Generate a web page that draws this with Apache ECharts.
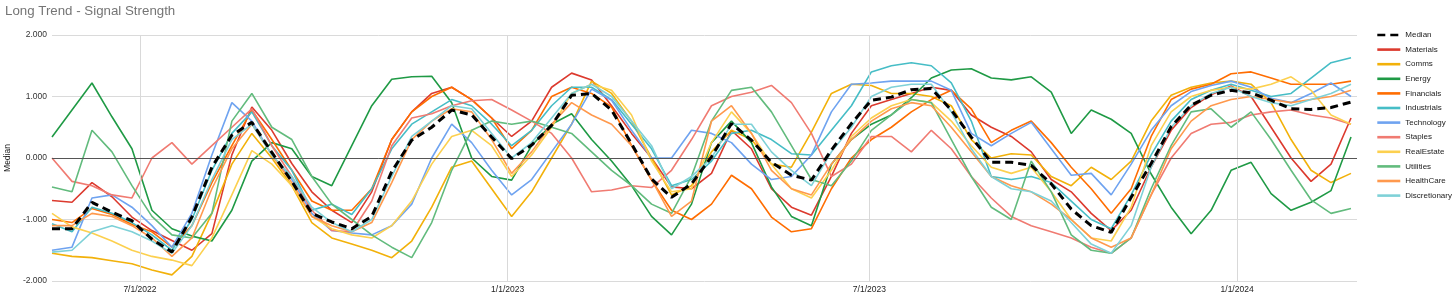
<!DOCTYPE html>
<html><head><meta charset="utf-8">
<script src="https://cdn.jsdelivr.net/npm/echarts@6/dist/echarts.min.js"></script>
<style>html,body{margin:0;padding:0;background:#fff;}#c{width:1456px;height:298px;}</style>
</head><body><div id="c"></div>
<script>
const dates = ['2022-05-18','2022-05-28','2022-06-07','2022-06-17','2022-06-27','2022-07-07','2022-07-17','2022-07-27','2022-08-06','2022-08-16','2022-08-26','2022-09-05','2022-09-15','2022-09-25','2022-10-05','2022-10-15','2022-10-25','2022-11-04','2022-11-14','2022-11-24','2022-12-04','2022-12-14','2022-12-24','2023-01-03','2023-01-13','2023-01-23','2023-02-02','2023-02-12','2023-02-22','2023-03-04','2023-03-14','2023-03-24','2023-04-03','2023-04-13','2023-04-23','2023-05-03','2023-05-13','2023-05-23','2023-06-02','2023-06-12','2023-06-22','2023-07-02','2023-07-12','2023-07-22','2023-08-01','2023-08-11','2023-08-21','2023-08-31','2023-09-10','2023-09-20','2023-09-30','2023-10-10','2023-10-20','2023-10-30','2023-11-09','2023-11-19','2023-11-29','2023-12-09','2023-12-19','2023-12-29','2024-01-08','2024-01-18','2024-01-28','2024-02-07','2024-02-17','2024-02-27'];

const median = [-1.15,-1.15,-0.72,-0.88,-1.02,-1.32,-1.53,-0.96,-0.15,0.37,0.58,0.09,-0.38,-0.9,-1.04,-1.15,-0.95,-0.22,0.29,0.5,0.78,0.70,0.34,-0.01,0.21,0.53,1.02,1.05,0.78,0.23,-0.34,-0.64,-0.42,0.02,0.56,0.29,-0.07,-0.28,-0.36,0.13,0.56,0.94,0.99,1.11,1.13,0.78,0.34,-0.07,-0.07,-0.12,-0.42,-0.83,-1.10,-1.21,-0.64,-0.09,0.51,0.86,1.02,1.10,1.06,0.94,0.80,0.79,0.82,0.91];
const materials = [-0.69,-0.72,-0.4,-0.63,-0.96,-1.18,-1.34,-1.5,-1.23,0.05,0.83,0.45,-0.09,-0.55,-0.85,-1.05,-0.55,0.3,0.75,1.05,1.15,0.95,0.65,0.35,0.6,1.15,1.38,1.27,0.85,0.4,0.0,-0.47,-0.5,-0.25,0.45,0.15,-0.5,-0.8,-0.93,-0.3,0.4,0.85,0.95,1.05,1.15,1.1,0.7,0.5,0.35,0.1,-0.35,-0.55,-0.9,-1.18,-0.85,-0.15,0.45,0.82,1.03,1.17,1.0,0.5,0.0,-0.38,-0.1,0.65];
const comms = [-1.55,-1.6,-1.62,-1.67,-1.72,-1.82,-1.9,-1.6,-0.9,-0.1,0.4,0.0,-0.45,-1.05,-1.3,-1.4,-1.5,-1.62,-1.35,-0.8,-0.15,-0.05,-0.5,-0.95,-0.55,0.0,0.55,1.25,1.05,0.6,0.0,-0.6,-0.45,0.1,0.45,0.3,-0.1,-0.15,0.42,1.05,1.2,1.18,1.05,1.05,1.0,0.85,0.3,0.0,0.07,0.05,-0.3,-0.45,-0.15,-0.35,-0.05,0.6,1.02,1.15,1.22,1.25,1.2,0.9,0.3,-0.2,-0.4,-0.25];
const energy = [0.34,0.78,1.22,0.67,0.15,-0.85,-1.15,-1.27,-1.35,-0.85,-0.05,0.25,0.15,-0.3,-0.45,0.2,0.85,1.28,1.32,1.33,0.9,0.0,-0.3,-0.36,0.2,0.55,0.72,0.3,-0.05,-0.45,-0.95,-1.25,-0.75,0.25,0.6,0.25,-0.47,-0.95,-1.1,-0.1,0.3,0.55,0.7,0.98,1.3,1.43,1.45,1.3,1.27,1.32,1.07,0.4,0.78,0.63,0.4,-0.26,-0.8,-1.23,-0.85,-0.2,-0.07,-0.58,-0.85,-0.72,-0.53,0.34];
const financials = [-1.0,-1.05,-0.82,-0.92,-1.08,-1.2,-1.45,-1.1,-0.4,0.2,0.78,0.3,-0.2,-0.7,-0.85,-0.85,-0.5,0.3,0.75,1.0,1.15,0.95,0.65,0.15,0.45,1.0,1.15,1.05,0.83,0.2,-0.36,-0.85,-1.0,-0.75,-0.28,-0.5,-0.96,-1.2,-1.15,-0.5,0.0,0.3,0.5,0.75,0.95,1.1,0.8,0.25,0.45,0.6,0.25,-0.15,-0.5,-0.9,-0.5,0.35,0.95,1.12,1.2,1.37,1.4,1.3,1.2,1.2,1.2,1.25];
const industrials = [-1.07,-1.2,-0.8,-0.9,-1.05,-1.25,-1.5,-1.0,-0.2,0.4,0.75,0.2,-0.2,-0.85,-0.75,-0.92,-0.5,0.15,0.55,0.75,0.95,0.85,0.55,0.2,0.45,0.85,1.15,1.15,0.95,0.55,0.15,-0.45,-0.35,-0.05,0.4,0.45,0.3,0.07,0.05,0.45,0.85,1.4,1.5,1.55,1.5,1.22,0.6,-0.3,-0.35,-0.3,-0.4,-0.7,-1.0,-1.15,-0.6,0.05,0.6,0.95,1.1,1.2,1.1,1.0,1.05,1.3,1.55,1.63];
const technology = [-1.5,-1.45,-0.65,-0.6,-0.8,-1.1,-1.45,-0.9,0.05,0.9,0.6,0.05,-0.35,-0.9,-1.18,-1.22,-1.25,-1.1,-0.75,0.0,0.55,0.25,-0.2,-0.6,-0.35,0.1,0.55,1.12,0.94,0.45,0.0,0.0,0.45,0.4,0.25,-0.1,-0.35,-0.3,0.05,0.75,1.2,1.22,1.25,1.25,1.25,1.1,0.4,0.2,0.4,0.58,0.15,-0.28,-0.25,-0.6,-0.1,0.45,0.85,1.08,1.18,1.25,1.15,0.97,0.9,1.05,1.22,1.0];
const staples = [0.0,-0.38,-0.45,-0.6,-0.65,0.0,0.25,-0.1,0.2,0.5,0.8,0.2,-0.3,-0.85,-1.18,-1.2,-0.7,0.2,0.65,0.72,0.85,0.93,0.95,0.78,0.6,0.4,0.0,-0.55,-0.52,-0.45,-0.48,-0.2,0.3,0.85,1.0,1.07,1.18,0.9,0.4,-0.3,-0.1,0.35,0.35,0.1,0.45,0.15,-0.3,-0.65,-0.95,-1.1,-1.2,-1.3,-1.45,-1.55,-1.3,-0.6,0.0,0.4,0.55,0.58,0.7,0.75,0.78,0.7,0.65,0.55];
const realEstate = [-0.9,-1.12,-1.22,-1.35,-1.5,-1.6,-1.66,-1.75,-1.3,-0.6,0.12,-0.1,-0.45,-0.95,-1.15,-1.25,-1.3,-1.1,-0.7,-0.1,0.35,0.45,0.2,-0.3,0.05,0.5,1.05,1.2,1.1,0.7,-0.05,-0.55,-0.5,0.25,0.75,0.4,-0.1,-0.5,-0.65,-0.2,0.35,0.65,0.85,0.95,0.9,0.6,0.2,-0.15,-0.25,-0.15,-0.55,-1.0,-1.3,-1.35,-0.8,0.2,0.75,1.0,1.1,1.15,1.12,1.2,1.32,1.1,0.7,0.55];
const utilities = [-0.47,-0.55,0.45,0.1,-0.45,-0.95,-1.25,-1.3,-0.9,0.6,1.05,0.5,0.3,-0.3,-0.75,-1.0,-1.25,-1.45,-1.62,-1.05,-0.2,0.45,0.6,0.55,0.6,0.5,0.4,0.1,-0.2,-0.45,-0.75,-0.9,-0.3,0.6,1.1,1.15,0.75,0.2,-0.35,-0.45,-0.05,0.45,0.7,0.95,0.9,0.3,-0.3,-0.8,-1.0,-0.05,-0.55,-1.25,-1.5,-1.55,-1.3,-0.5,0.2,0.75,0.8,0.5,0.75,0.3,-0.2,-0.68,-0.9,-0.82];
const healthCare = [-1.1,-1.1,-0.9,-0.95,-1.1,-1.3,-1.6,-1.3,-0.5,0.15,0.55,0.05,-0.4,-0.95,-1.1,-1.2,-1.05,-0.4,0.3,0.6,0.8,0.75,0.3,-0.25,0.1,0.55,0.9,0.7,0.55,0.2,-0.35,-0.95,-0.7,0.6,0.85,0.4,-0.2,-0.5,-0.6,-0.1,0.3,0.6,0.8,0.9,0.85,0.5,0.1,-0.3,-0.45,-0.55,-0.75,-1.0,-1.3,-1.45,-1.3,-0.6,0.15,0.6,0.85,0.95,1.0,0.95,0.9,0.95,1.0,1.1];
const discretionary = [-1.53,-1.5,-1.2,-1.1,-1.2,-1.35,-1.55,-1.1,-0.35,0.3,0.55,0.05,-0.3,-0.8,-1.05,-1.2,-1.0,-0.3,0.35,0.6,0.85,0.8,0.4,0.0,0.25,0.65,1.05,1.2,1.0,0.6,0.2,-0.5,-0.3,0.0,0.55,0.55,0.1,-0.2,-0.45,0.1,0.5,1.0,1.15,1.2,1.2,0.75,0.15,-0.3,-0.5,-0.55,-0.7,-1.05,-1.4,-1.55,-1.1,-0.15,0.5,0.85,1.05,1.15,1.0,0.9,0.85,0.95,1.05,1.2];

const seriesNames = ['Median','Materials','Comms','Energy','Financials','Industrials','Technology','Staples','RealEstate','Utilities','HealthCare','Discretionary'];
const seriesValues = [median,materials,comms,energy,financials,industrials,technology,staples,realEstate,utilities,healthCare,discretionary];
const seriesColors = ['#000000','#dc3a2e','#f2b10a','#1f9a45','#ff6d01','#46bdc6','#6fa3f0','#f07b72','#fcd04f','#62bb7d','#ff994d','#7ed1d7'];
const tickDates = ['2022-07-01','2023-01-01','2023-07-01','2024-01-01'];
const tickLabels = ['7/1/2022','1/1/2023','7/1/2023','1/1/2024'];
const xStart = '2022-05-18', xEnd = '2024-03-01';

function ts(d){const p=d.split('-');return Date.UTC(+p[0],+p[1]-1,+p[2]);}
const FONT = '"Liberation Sans", Arial, sans-serif';
const tickTs = tickDates.map(ts);

const series = seriesNames.map((name,k)=>({
  name, type:'line', symbol:'none', showSymbol:false, smooth:false,
  z: k===0 ? 5 : 3,
  data: dates.map((d,i)=>[ts(d), seriesValues[k][i]]),
  lineStyle: k===0 ? {color:seriesColors[k], width:3, type:[8,5]} : {color:seriesColors[k], width:1.6},
  itemStyle:{color:seriesColors[k]},
  emphasis:{disabled:true}
}));
series.push({
  name:'_grid', type:'line', data:[], silent:true, z:1,
  markLine:{silent:true, symbol:'none', label:{show:false}, animation:false,
    data:[
      ...tickTs.map(t=>({xAxis:t, lineStyle:{color:'#d9d9d9', width:1, type:'solid'}})),
      {yAxis:0, lineStyle:{color:'#555555', width:1, type:'solid'}}
    ]}
});

const chart = echarts.init(document.getElementById('c'), null, {renderer:'canvas'});
chart.setOption({
  animation:false, backgroundColor:'#ffffff',
  textStyle:{fontFamily:FONT},
  title:{text:'Long Trend - Signal Strength', left:5, top:5, padding:0, textStyle:{fontSize:13.3, fontWeight:'normal', color:'#757575', fontFamily:FONT}},
  grid:{left:52, right:99, top:35, bottom:17, containLabel:false, outerBoundsMode:'none'},
  legend:{orient:'vertical', left:1376, top:30, padding:0, itemWidth:23, itemHeight:10, itemGap:4.6,
    itemStyle:{opacity:0}, lineStyle:{width:2.6},
    data:seriesNames, textStyle:{fontSize:8, color:'#222', lineHeight:10, fontFamily:FONT}},
  xAxis:{type:'value', min:ts(xStart), max:ts(xEnd), scale:true,
    axisLine:{show:false}, axisTick:{show:false}, splitLine:{show:false},
    axisLabel:{customValues:tickTs, fontSize:8.5, color:'#222', margin:4, fontFamily:FONT, hideOverlap:false,
      formatter:(v)=>{const i=tickTs.indexOf(v); return i>=0?tickLabels[i]:'';}}},
  yAxis:{type:'value', min:-2, max:2, interval:1,
    name:'Median', nameLocation:'middle', nameGap:39, nameTextStyle:{fontSize:8.5, color:'#222', fontFamily:FONT},
    axisLine:{show:false}, axisTick:{show:false},
    axisLabel:{formatter:(v)=>v.toFixed(3), fontSize:8.5, color:'#333', margin:5, fontFamily:FONT},
    splitLine:{lineStyle:{color:'#dadada', width:1}}},
  series
});
</script></body></html>
